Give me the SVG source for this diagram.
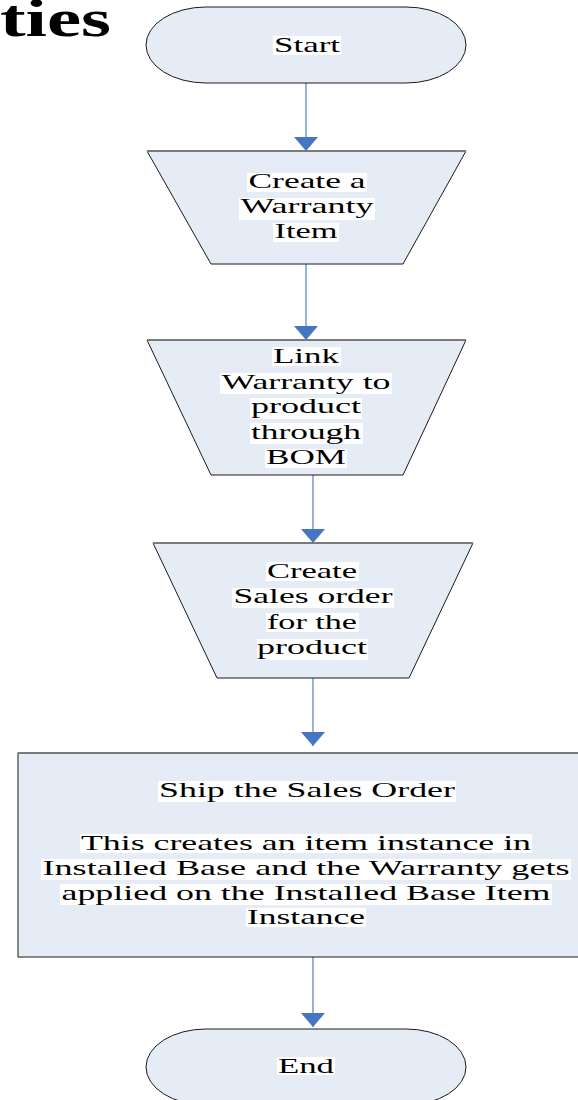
<svg xmlns="http://www.w3.org/2000/svg" width="578" height="1100" viewBox="0 0 578 1100">
<style>
.shape{fill:#E6ECF6;stroke:#1a1a1a;stroke-width:1}
.topedge{stroke:#7a7a7a;stroke-width:2}
.t{font-family:"Liberation Serif","Times New Roman",serif;font-size:22px;fill:#000;text-anchor:middle}
.hl{fill:#fff}
.conn{stroke:#5B88CF;stroke-width:1.3;fill:none}
.title{font-family:"Liberation Serif","Times New Roman",serif;font-size:52px;font-weight:bold;fill:#000}
</style>
<defs>
<marker id="ah" markerUnits="userSpaceOnUse" viewBox="0 0 14 24" markerWidth="14" markerHeight="24" refX="14" refY="12" orient="auto">
<path d="M0,0 L14,12 L0,24 z" fill="#4676C2"/>
</marker>
</defs>
<text class="title" x="0" y="36" textLength="111" lengthAdjust="spacingAndGlyphs">ties</text>
<g id="connectors">
<line class="conn" x1="306" y1="83" x2="306" y2="151" marker-end="url(#ah)"/>
<line class="conn" x1="306" y1="264" x2="306" y2="340" marker-end="url(#ah)"/>
<line class="conn" x1="313" y1="475" x2="313" y2="543" marker-end="url(#ah)"/>
<line class="conn" x1="313" y1="678" x2="313" y2="746" marker-end="url(#ah)"/>
<line class="conn" x1="313" y1="957" x2="313" y2="1027" marker-end="url(#ah)"/>
</g>
<g id="start">
<rect class="shape" x="146" y="7" width="320" height="76" rx="60" ry="38"/>
<rect class="hl" x="273" y="36" width="68" height="19"/>
<text class="t" x="307" y="52" textLength="66" lengthAdjust="spacingAndGlyphs">Start</text>
</g>
<g id="create-warranty">
<polygon class="shape" points="147,151 466,151 403,264 211,264"/>
<line class="topedge" x1="147" y1="151" x2="466" y2="151"/>
<rect class="hl" x="247" y="173" width="120" height="19"/>
<rect class="hl" x="239" y="198" width="136" height="22"/>
<rect class="hl" x="273" y="223" width="66" height="19"/>
<text class="t" x="307" y="188" textLength="117" lengthAdjust="spacingAndGlyphs">Create a</text>
<text class="t" x="307" y="213" textLength="133" lengthAdjust="spacingAndGlyphs">Warranty</text>
<text class="t" x="306" y="238" textLength="63" lengthAdjust="spacingAndGlyphs">Item</text>
</g>
<g id="link-warranty">
<polygon class="shape" points="147,340 466,340 403,475 211,475"/>
<line class="topedge" x1="147" y1="340" x2="466" y2="340"/>
<rect class="hl" x="272" y="347" width="69" height="19"/>
<rect class="hl" x="220" y="373" width="172" height="21"/>
<rect class="hl" x="250" y="398" width="112" height="21"/>
<rect class="hl" x="250" y="423" width="113" height="21"/>
<rect class="hl" x="265" y="449" width="82" height="19"/>
<text class="t" x="306" y="363" textLength="66" lengthAdjust="spacingAndGlyphs">Link</text>
<text class="t" x="306" y="389" textLength="169" lengthAdjust="spacingAndGlyphs">Warranty to</text>
<text class="t" x="306" y="413" textLength="110" lengthAdjust="spacingAndGlyphs">product</text>
<text class="t" x="306" y="439" textLength="110" lengthAdjust="spacingAndGlyphs">through</text>
<text class="t" x="306" y="464" textLength="80" lengthAdjust="spacingAndGlyphs">BOM</text>
</g>
<g id="create-sales-order">
<polygon class="shape" points="153,543 473,543 409,678 217,678"/>
<line class="topedge" x1="153" y1="543" x2="473" y2="543"/>
<rect class="hl" x="266" y="562" width="93" height="19"/>
<rect class="hl" x="232" y="588" width="162" height="20"/>
<rect class="hl" x="266" y="613" width="93" height="19"/>
<rect class="hl" x="257" y="639" width="111" height="21"/>
<text class="t" x="312" y="578" textLength="90" lengthAdjust="spacingAndGlyphs">Create</text>
<text class="t" x="313" y="603" textLength="159" lengthAdjust="spacingAndGlyphs">Sales order</text>
<text class="t" x="312" y="629" textLength="90" lengthAdjust="spacingAndGlyphs">for the</text>
<text class="t" x="312" y="654" textLength="110" lengthAdjust="spacingAndGlyphs">product</text>
</g>
<g id="ship-sales-order">
<rect class="shape" x="18" y="753" width="580" height="204"/>
<line class="topedge" x1="18" y1="753" x2="578" y2="753"/>
<rect class="hl" x="158" y="781" width="298" height="21"/>
<rect class="hl" x="80" y="834" width="452" height="19"/>
<rect class="hl" x="41" y="859" width="530" height="21"/>
<rect class="hl" x="60" y="884" width="492" height="21"/>
<rect class="hl" x="246" y="908" width="120" height="19"/>
<text class="t" x="307" y="797" textLength="296" lengthAdjust="spacingAndGlyphs">Ship the Sales Order</text>
<text class="t" x="306" y="850" textLength="450" lengthAdjust="spacingAndGlyphs">This creates an item instance in</text>
<text class="t" x="306" y="875" textLength="527" lengthAdjust="spacingAndGlyphs">Installed Base and the Warranty gets</text>
<text class="t" x="306" y="900" textLength="489" lengthAdjust="spacingAndGlyphs">applied on the Installed Base Item</text>
<text class="t" x="306" y="924" textLength="118" lengthAdjust="spacingAndGlyphs">Instance</text>
</g>
<g id="end">
<rect class="shape" x="146" y="1029" width="320" height="76" rx="60" ry="38"/>
<rect class="hl" x="277" y="1057" width="58" height="18"/>
<text class="t" x="306" y="1073" textLength="56" lengthAdjust="spacingAndGlyphs">End</text>
</g>
</svg>
